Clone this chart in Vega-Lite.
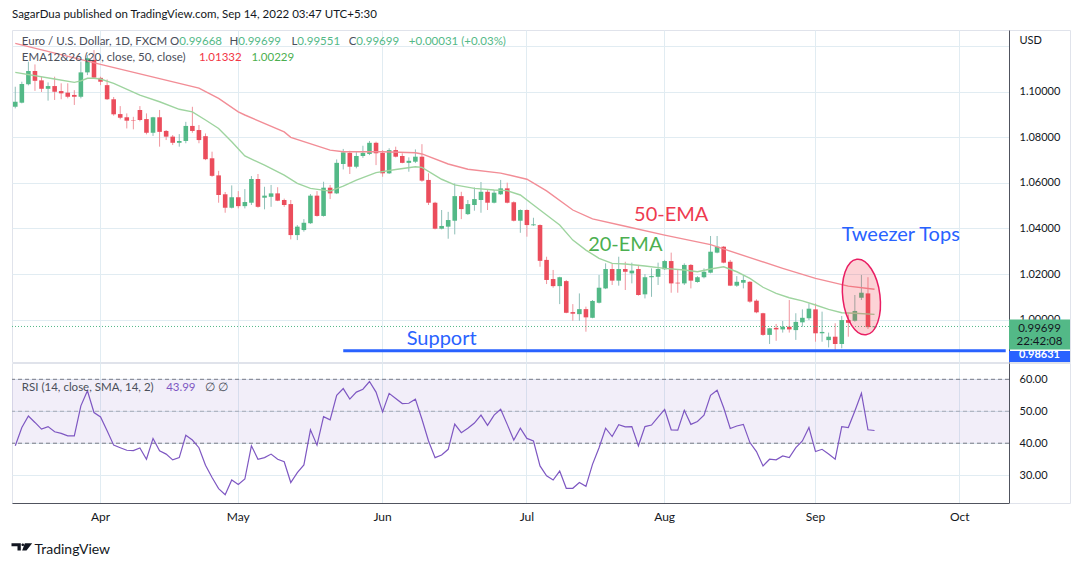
{
  "$schema": "https://vega.github.io/schema/vega-lite/v6.json",
  "background": "#ffffff",
  "padding": {"left": 10, "top": 9, "right": 11, "bottom": 4},
  "spacing": -2,
  "title": {"text": "SagarDua published on TradingView.com, Sep 14, 2022 03:47 UTC+5:30", "anchor": "start", "frame": "group", "fontSize": 11.5, "font": "Lato", "fontWeight": "normal", "color": "#131722", "offset": 9},
  "config": {
    "view": {"stroke": "#e0e3eb", "strokeWidth": 1},
    "font": "Lato",
    "axis": {"labelFont": "Lato", "titleFont": "Lato", "minExtent": 0},
    "text": {"font": "Lato"}
  },
  "datasets": {
    "candles": [
      {"d":"2022-03-15","o":1.0934,"h":1.1022,"l":1.0927,"c":1.0956},
      {"d":"2022-03-16","o":1.0952,"h":1.1044,"l":1.0949,"c":1.1034},
      {"d":"2022-03-17","o":1.1033,"h":1.1132,"l":1.1028,"c":1.1091},
      {"d":"2022-03-18","o":1.1091,"h":1.1120,"l":1.1004,"c":1.1048},
      {"d":"2022-03-21","o":1.1050,"h":1.1066,"l":1.0999,"c":1.1013},
      {"d":"2022-03-22","o":1.1013,"h":1.1041,"l":1.0961,"c":1.1025},
      {"d":"2022-03-23","o":1.1025,"h":1.1066,"l":1.0964,"c":1.1000},
      {"d":"2022-03-24","o":1.1003,"h":1.1037,"l":1.0967,"c":1.0993},
      {"d":"2022-03-25","o":1.0996,"h":1.1037,"l":1.0971,"c":1.0978},
      {"d":"2022-03-28","o":1.0986,"h":1.1007,"l":1.0942,"c":1.0978},
      {"d":"2022-03-29","o":1.0978,"h":1.1132,"l":1.0971,"c":1.1085},
      {"d":"2022-03-30","o":1.1085,"h":1.1161,"l":1.1073,"c":1.1147},
      {"d":"2022-03-31","o":1.1140,"h":1.1183,"l":1.1059,"c":1.1062},
      {"d":"2022-04-01","o":1.1061,"h":1.1066,"l":1.1029,"c":1.1044},
      {"d":"2022-04-04","o":1.1029,"h":1.1054,"l":1.0964,"c":1.0967},
      {"d":"2022-04-05","o":1.0967,"h":1.0977,"l":1.0895,"c":1.0901},
      {"d":"2022-04-06","o":1.0902,"h":1.0937,"l":1.0879,"c":1.0886},
      {"d":"2022-04-07","o":1.0888,"h":1.0905,"l":1.0839,"c":1.0873},
      {"d":"2022-04-08","o":1.0876,"h":1.0890,"l":1.0835,"c":1.0874},
      {"d":"2022-04-11","o":1.0920,"h":1.0937,"l":1.0870,"c":1.0876},
      {"d":"2022-04-12","o":1.0880,"h":1.0905,"l":1.0813,"c":1.0820},
      {"d":"2022-04-13","o":1.0820,"h":1.0890,"l":1.0806,"c":1.0888},
      {"d":"2022-04-14","o":1.0888,"h":1.0920,"l":1.0759,"c":1.0824},
      {"d":"2022-04-15","o":1.0828,"h":1.0832,"l":1.0788,"c":1.0803},
      {"d":"2022-04-18","o":1.0803,"h":1.0810,"l":1.0766,"c":1.0776},
      {"d":"2022-04-19","o":1.0776,"h":1.0814,"l":1.0759,"c":1.0784},
      {"d":"2022-04-20","o":1.0784,"h":1.0868,"l":1.0774,"c":1.0850},
      {"d":"2022-04-21","o":1.0850,"h":1.0934,"l":1.0820,"c":1.0828},
      {"d":"2022-04-22","o":1.0832,"h":1.0854,"l":1.0774,"c":1.0788},
      {"d":"2022-04-25","o":1.0805,"h":1.0817,"l":1.0700,"c":1.0704},
      {"d":"2022-04-26","o":1.0708,"h":1.0737,"l":1.0627,"c":1.0631},
      {"d":"2022-04-27","o":1.0633,"h":1.0653,"l":1.0513,"c":1.0547},
      {"d":"2022-04-28","o":1.0550,"h":1.0560,"l":1.0469,"c":1.0491},
      {"d":"2022-04-29","o":1.0491,"h":1.0589,"l":1.0488,"c":1.0537},
      {"d":"2022-05-02","o":1.0537,"h":1.0564,"l":1.0488,"c":1.0498},
      {"d":"2022-05-03","o":1.0498,"h":1.0573,"l":1.0488,"c":1.0516},
      {"d":"2022-05-04","o":1.0513,"h":1.0630,"l":1.0503,"c":1.0617},
      {"d":"2022-05-05","o":1.0617,"h":1.0639,"l":1.0491,"c":1.0495},
      {"d":"2022-05-06","o":1.0535,"h":1.0583,"l":1.0484,"c":1.0544},
      {"d":"2022-05-09","o":1.0539,"h":1.0591,"l":1.0495,"c":1.0554},
      {"d":"2022-05-10","o":1.0554,"h":1.0581,"l":1.0520,"c":1.0522},
      {"d":"2022-05-11","o":1.0525,"h":1.0531,"l":1.0495,"c":1.0503},
      {"d":"2022-05-12","o":1.0507,"h":1.0525,"l":1.0352,"c":1.0371},
      {"d":"2022-05-13","o":1.0371,"h":1.0415,"l":1.0349,"c":1.0408},
      {"d":"2022-05-16","o":1.0393,"h":1.0441,"l":1.0386,"c":1.0425},
      {"d":"2022-05-17","o":1.0423,"h":1.0551,"l":1.0420,"c":1.0544},
      {"d":"2022-05-18","o":1.0544,"h":1.0564,"l":1.0452,"c":1.0455},
      {"d":"2022-05-19","o":1.0455,"h":1.0605,"l":1.0452,"c":1.0579},
      {"d":"2022-05-20","o":1.0579,"h":1.0591,"l":1.0529,"c":1.0554},
      {"d":"2022-05-23","o":1.0554,"h":1.0703,"l":1.0551,"c":1.0688},
      {"d":"2022-05-24","o":1.0683,"h":1.0749,"l":1.0659,"c":1.0734},
      {"d":"2022-05-25","o":1.0732,"h":1.0741,"l":1.0639,"c":1.0671},
      {"d":"2022-05-26","o":1.0671,"h":1.0735,"l":1.0664,"c":1.0718},
      {"d":"2022-05-27","o":1.0718,"h":1.0763,"l":1.0710,"c":1.0732},
      {"d":"2022-05-30","o":1.0727,"h":1.0784,"l":1.0722,"c":1.0776},
      {"d":"2022-05-31","o":1.0776,"h":1.0781,"l":1.0678,"c":1.0730},
      {"d":"2022-06-01","o":1.0732,"h":1.0744,"l":1.0627,"c":1.0642},
      {"d":"2022-06-02","o":1.0642,"h":1.0752,"l":1.0639,"c":1.0744},
      {"d":"2022-06-03","o":1.0744,"h":1.0759,"l":1.0712,"c":1.0715},
      {"d":"2022-06-06","o":1.0718,"h":1.0730,"l":1.0686,"c":1.0688},
      {"d":"2022-06-07","o":1.0688,"h":1.0712,"l":1.0649,"c":1.0697},
      {"d":"2022-06-08","o":1.0693,"h":1.0747,"l":1.0687,"c":1.0715},
      {"d":"2022-06-09","o":1.0715,"h":1.0770,"l":1.0605,"c":1.0610},
      {"d":"2022-06-10","o":1.0613,"h":1.0642,"l":1.0503,"c":1.0513},
      {"d":"2022-06-13","o":1.0513,"h":1.0517,"l":1.0396,"c":1.0399},
      {"d":"2022-06-14","o":1.0399,"h":1.0481,"l":1.0396,"c":1.0411},
      {"d":"2022-06-15","o":1.0408,"h":1.0473,"l":1.0355,"c":1.0437},
      {"d":"2022-06-16","o":1.0434,"h":1.0598,"l":1.0374,"c":1.0542},
      {"d":"2022-06-17","o":1.0542,"h":1.0561,"l":1.0441,"c":1.0485},
      {"d":"2022-06-20","o":1.0463,"h":1.0525,"l":1.0459,"c":1.0507},
      {"d":"2022-06-21","o":1.0503,"h":1.0580,"l":1.0478,"c":1.0529},
      {"d":"2022-06-22","o":1.0525,"h":1.0604,"l":1.0469,"c":1.0561},
      {"d":"2022-06-23","o":1.0561,"h":1.0572,"l":1.0481,"c":1.0513},
      {"d":"2022-06-24","o":1.0513,"h":1.0569,"l":1.0510,"c":1.0557},
      {"d":"2022-06-27","o":1.0550,"h":1.0613,"l":1.0547,"c":1.0576},
      {"d":"2022-06-28","o":1.0576,"h":1.0601,"l":1.0510,"c":1.0513},
      {"d":"2022-06-29","o":1.0515,"h":1.0519,"l":1.0431,"c":1.0434},
      {"d":"2022-06-30","o":1.0434,"h":1.0484,"l":1.0381,"c":1.0481},
      {"d":"2022-07-01","o":1.0481,"h":1.0484,"l":1.0364,"c":1.0415},
      {"d":"2022-07-04","o":1.0414,"h":1.0447,"l":1.0411,"c":1.0418},
      {"d":"2022-07-05","o":1.0415,"h":1.0418,"l":1.0232,"c":1.0258},
      {"d":"2022-07-06","o":1.0262,"h":1.0276,"l":1.0156,"c":1.0174},
      {"d":"2022-07-07","o":1.0178,"h":1.0218,"l":1.0140,"c":1.0147},
      {"d":"2022-07-08","o":1.0147,"h":1.0188,"l":1.0068,"c":1.0186},
      {"d":"2022-07-11","o":1.0169,"h":1.0174,"l":1.0028,"c":1.0030},
      {"d":"2022-07-12","o":1.0033,"h":1.0068,"l":0.9995,"c":1.0026},
      {"d":"2022-07-13","o":1.0024,"h":1.0115,"l":0.9995,"c":1.0046},
      {"d":"2022-07-14","o":1.0046,"h":1.0057,"l":0.9947,"c":1.0010},
      {"d":"2022-07-15","o":1.0008,"h":1.0086,"l":1.0006,"c":1.0082},
      {"d":"2022-07-18","o":1.0074,"h":1.0196,"l":1.0071,"c":1.0140},
      {"d":"2022-07-19","o":1.0137,"h":1.0247,"l":1.0134,"c":1.0222},
      {"d":"2022-07-20","o":1.0222,"h":1.0247,"l":1.0152,"c":1.0171},
      {"d":"2022-07-21","o":1.0171,"h":1.0276,"l":1.0149,"c":1.0222},
      {"d":"2022-07-22","o":1.0222,"h":1.0254,"l":1.0130,"c":1.0210},
      {"d":"2022-07-25","o":1.0203,"h":1.0250,"l":1.0159,"c":1.0215},
      {"d":"2022-07-26","o":1.0222,"h":1.0240,"l":1.0105,"c":1.0108},
      {"d":"2022-07-27","o":1.0111,"h":1.0200,"l":1.0093,"c":1.0186},
      {"d":"2022-07-28","o":1.0186,"h":1.0225,"l":1.0100,"c":1.0191},
      {"d":"2022-07-29","o":1.0188,"h":1.0250,"l":1.0152,"c":1.0222},
      {"d":"2022-08-01","o":1.0221,"h":1.0262,"l":1.0218,"c":1.0257},
      {"d":"2022-08-02","o":1.0257,"h":1.0294,"l":1.0118,"c":1.0159},
      {"d":"2022-08-03","o":1.0162,"h":1.0218,"l":1.0118,"c":1.0159},
      {"d":"2022-08-04","o":1.0159,"h":1.0247,"l":1.0152,"c":1.0240},
      {"d":"2022-08-05","o":1.0240,"h":1.0244,"l":1.0137,"c":1.0171},
      {"d":"2022-08-08","o":1.0165,"h":1.0191,"l":1.0162,"c":1.0186},
      {"d":"2022-08-09","o":1.0186,"h":1.0225,"l":1.0181,"c":1.0210},
      {"d":"2022-08-10","o":1.0206,"h":1.0367,"l":1.0203,"c":1.0298},
      {"d":"2022-08-11","o":1.0294,"h":1.0367,"l":1.0291,"c":1.0320},
      {"d":"2022-08-12","o":1.0320,"h":1.0323,"l":1.0247,"c":1.0250},
      {"d":"2022-08-15","o":1.0254,"h":1.0262,"l":1.0147,"c":1.0149},
      {"d":"2022-08-16","o":1.0149,"h":1.0191,"l":1.0144,"c":1.0166},
      {"d":"2022-08-17","o":1.0162,"h":1.0194,"l":1.0137,"c":1.0174},
      {"d":"2022-08-18","o":1.0166,"h":1.0169,"l":1.0074,"c":1.0079},
      {"d":"2022-08-19","o":1.0083,"h":1.0089,"l":1.0028,"c":1.0032},
      {"d":"2022-08-22","o":1.0028,"h":1.0030,"l":0.9929,"c":0.9933},
      {"d":"2022-08-23","o":0.9933,"h":0.9964,"l":0.9893,"c":0.9962},
      {"d":"2022-08-24","o":0.9964,"h":0.9981,"l":0.9907,"c":0.9957},
      {"d":"2022-08-25","o":0.9957,"h":0.9994,"l":0.9943,"c":0.9969},
      {"d":"2022-08-26","o":0.9969,"h":1.0086,"l":0.9943,"c":0.9957},
      {"d":"2022-08-29","o":0.9954,"h":1.0028,"l":0.9911,"c":0.9990},
      {"d":"2022-08-30","o":0.9988,"h":1.0045,"l":0.9969,"c":1.0008},
      {"d":"2022-08-31","o":1.0006,"h":1.0071,"l":0.9998,"c":1.0048},
      {"d":"2022-09-01","o":1.0045,"h":1.0071,"l":0.9903,"c":0.9940},
      {"d":"2022-09-02","o":0.9940,"h":1.0035,"l":0.9903,"c":0.9946},
      {"d":"2022-09-05","o":0.9910,"h":0.9943,"l":0.9878,"c":0.9925},
      {"d":"2022-09-06","o":0.9925,"h":0.9984,"l":0.9859,"c":0.9893},
      {"d":"2022-09-07","o":0.9893,"h":1.0016,"l":0.9874,"c":0.9998},
      {"d":"2022-09-08","o":0.9998,"h":1.0023,"l":0.9925,"c":0.9986},
      {"d":"2022-09-09","o":0.9995,"h":1.0108,"l":0.9991,"c":1.0038},
      {"d":"2022-09-12","o":1.0096,"h":1.0196,"l":1.0086,"c":1.0118},
      {"d":"2022-09-13","o":1.0115,"h":1.0186,"l":0.9959,"c":0.9967},
      {"d":"2022-09-14","o":0.99668,"h":0.99699,"l":0.99551,"c":0.99699}
    ],
    "ema50": [
      {"d":"2022-03-15","v":1.1212},{"d":"2022-04-01","v":1.1120},{"d":"2022-04-22","v":1.1016},
      {"d":"2022-04-27","v":1.0971},{"d":"2022-05-02","v":1.0912},{"d":"2022-05-03","v":1.0898},
      {"d":"2022-05-11","v":1.0824},{"d":"2022-05-12","v":1.0800},{"d":"2022-05-20","v":1.0744},
      {"d":"2022-05-24","v":1.0737},{"d":"2022-06-01","v":1.0737},{"d":"2022-06-08","v":1.0732},
      {"d":"2022-06-09","v":1.0727},{"d":"2022-06-15","v":1.0683},{"d":"2022-06-20","v":1.0660},
      {"d":"2022-06-27","v":1.0643},{"d":"2022-07-01","v":1.0616},{"d":"2022-07-06","v":1.0565},
      {"d":"2022-07-12","v":1.0481},{"d":"2022-07-15","v":1.0442},{"d":"2022-07-22","v":1.0410},
      {"d":"2022-08-01","v":1.0371},{"d":"2022-08-10","v":1.0329},{"d":"2022-08-18","v":1.0272},
      {"d":"2022-08-25","v":1.0225},{"d":"2022-09-01","v":1.0181},{"d":"2022-09-08","v":1.0147},
      {"d":"2022-09-14","v":1.0133}
    ],
    "ema20": [
      {"d":"2022-03-15","v":1.1085},{"d":"2022-03-23","v":1.1056},{"d":"2022-03-28","v":1.1041},
      {"d":"2022-03-29","v":1.1048},{"d":"2022-03-30","v":1.1059},{"d":"2022-03-31","v":1.1059},
      {"d":"2022-04-01","v":1.1056},{"d":"2022-04-05","v":1.1037},{"d":"2022-04-11","v":1.0985},
      {"d":"2022-04-14","v":1.0956},{"d":"2022-04-19","v":1.0923},{"d":"2022-04-21","v":1.0912},
      {"d":"2022-04-25","v":1.0876},{"d":"2022-04-27","v":1.0839},{"d":"2022-04-29","v":1.0781},
      {"d":"2022-05-03","v":1.0718},{"d":"2022-05-06","v":1.0678},{"d":"2022-05-11","v":1.0634},
      {"d":"2022-05-13","v":1.0598},{"d":"2022-05-17","v":1.0576},{"d":"2022-05-20","v":1.0564},
      {"d":"2022-05-24","v":1.0586},{"d":"2022-05-26","v":1.0612},{"d":"2022-05-31","v":1.0645},
      {"d":"2022-06-03","v":1.0659},{"d":"2022-06-08","v":1.0671},{"d":"2022-06-09","v":1.0668},
      {"d":"2022-06-14","v":1.0616},{"d":"2022-06-16","v":1.0591},{"d":"2022-06-21","v":1.0576},
      {"d":"2022-06-24","v":1.0569},{"d":"2022-06-28","v":1.0566},{"d":"2022-06-30","v":1.0547},
      {"d":"2022-07-04","v":1.0503},{"d":"2022-07-06","v":1.0459},{"d":"2022-07-08","v":1.0415},
      {"d":"2022-07-12","v":1.0349},{"d":"2022-07-14","v":1.0305},{"d":"2022-07-18","v":1.0269},
      {"d":"2022-07-20","v":1.0247},{"d":"2022-07-22","v":1.0244},{"d":"2022-07-27","v":1.0235},
      {"d":"2022-08-01","v":1.0225},{"d":"2022-08-04","v":1.0218},{"d":"2022-08-08","v":1.0210},
      {"d":"2022-08-10","v":1.0222},{"d":"2022-08-12","v":1.0232},{"d":"2022-08-16","v":1.0210},
      {"d":"2022-08-18","v":1.0181},{"d":"2022-08-22","v":1.0142},{"d":"2022-08-24","v":1.0115},
      {"d":"2022-08-26","v":1.0096},{"d":"2022-08-30","v":1.0082},{"d":"2022-09-01","v":1.0064},
      {"d":"2022-09-05","v":1.0045},{"d":"2022-09-07","v":1.0030},{"d":"2022-09-09","v":1.0028},
      {"d":"2022-09-14","v":1.0023}
    ],
    "rsi": [
      {"d":"2022-03-15","v":39.2},{"d":"2022-03-16","v":44.9},{"d":"2022-03-17","v":48.5},{"d":"2022-03-18","v":46.5},
      {"d":"2022-03-21","v":44.4},{"d":"2022-03-22","v":45.2},{"d":"2022-03-23","v":43.6},{"d":"2022-03-24","v":43.1},
      {"d":"2022-03-25","v":42.3},{"d":"2022-03-28","v":42.3},{"d":"2022-03-29","v":51.7},{"d":"2022-03-30","v":56.4},
      {"d":"2022-03-31","v":49.6},{"d":"2022-04-01","v":48.2},{"d":"2022-04-04","v":43.9},{"d":"2022-04-05","v":39.4},
      {"d":"2022-04-06","v":38.6},{"d":"2022-04-07","v":37.8},{"d":"2022-04-08","v":37.7},{"d":"2022-04-11","v":38.5},
      {"d":"2022-04-12","v":35.0},{"d":"2022-04-13","v":41.5},{"d":"2022-04-14","v":37.6},{"d":"2022-04-15","v":36.6},
      {"d":"2022-04-18","v":34.8},{"d":"2022-04-19","v":35.5},{"d":"2022-04-20","v":42.5},{"d":"2022-04-21","v":41.0},
      {"d":"2022-04-22","v":38.6},{"d":"2022-04-25","v":33.1},{"d":"2022-04-26","v":29.3},{"d":"2022-04-27","v":25.8},
      {"d":"2022-04-28","v":23.9},{"d":"2022-04-29","v":28.5},{"d":"2022-05-02","v":27.1},{"d":"2022-05-03","v":28.8},
      {"d":"2022-05-04","v":39.2},{"d":"2022-05-05","v":35.0},{"d":"2022-05-06","v":35.5},{"d":"2022-05-09","v":36.6},
      {"d":"2022-05-10","v":35.0},{"d":"2022-05-11","v":34.2},{"d":"2022-05-12","v":27.7},{"d":"2022-05-13","v":30.8},
      {"d":"2022-05-16","v":33.2},{"d":"2022-05-17","v":44.2},{"d":"2022-05-18","v":39.4},{"d":"2022-05-19","v":48.3},
      {"d":"2022-05-20","v":47.3},{"d":"2022-05-23","v":55.0},{"d":"2022-05-24","v":57.1},{"d":"2022-05-25","v":53.8},
      {"d":"2022-05-26","v":56.0},{"d":"2022-05-27","v":56.9},{"d":"2022-05-30","v":59.3},{"d":"2022-05-31","v":56.0},
      {"d":"2022-06-01","v":49.8},{"d":"2022-06-02","v":55.6},{"d":"2022-06-03","v":54.0},{"d":"2022-06-06","v":52.4},
      {"d":"2022-06-07","v":52.5},{"d":"2022-06-08","v":53.8},{"d":"2022-06-09","v":47.5},{"d":"2022-06-10","v":40.7},
      {"d":"2022-06-13","v":35.5},{"d":"2022-06-14","v":36.3},{"d":"2022-06-15","v":38.1},{"d":"2022-06-16","v":46.0},
      {"d":"2022-06-17","v":43.3},{"d":"2022-06-20","v":44.7},{"d":"2022-06-21","v":46.3},{"d":"2022-06-22","v":48.8},
      {"d":"2022-06-23","v":45.6},{"d":"2022-06-24","v":48.8},{"d":"2022-06-27","v":50.6},{"d":"2022-06-28","v":45.9},
      {"d":"2022-06-29","v":41.0},{"d":"2022-06-30","v":44.7},{"d":"2022-07-01","v":41.5},{"d":"2022-07-04","v":40.7},
      {"d":"2022-07-05","v":32.9},{"d":"2022-07-06","v":29.8},{"d":"2022-07-07","v":28.5},{"d":"2022-07-08","v":31.3},
      {"d":"2022-07-11","v":25.9},{"d":"2022-07-12","v":25.9},{"d":"2022-07-13","v":27.7},{"d":"2022-07-14","v":26.5},
      {"d":"2022-07-15","v":33.4},{"d":"2022-07-18","v":38.6},{"d":"2022-07-19","v":44.7},{"d":"2022-07-20","v":42.1},
      {"d":"2022-07-21","v":45.8},{"d":"2022-07-22","v":45.1},{"d":"2022-07-25","v":45.2},{"d":"2022-07-26","v":39.2},
      {"d":"2022-07-27","v":45.2},{"d":"2022-07-28","v":45.7},{"d":"2022-07-29","v":48.2},{"d":"2022-08-01","v":50.6},
      {"d":"2022-08-02","v":44.2},{"d":"2022-08-03","v":44.1},{"d":"2022-08-04","v":50.3},{"d":"2022-08-05","v":45.9},
      {"d":"2022-08-08","v":46.8},{"d":"2022-08-09","v":48.8},{"d":"2022-08-10","v":55.0},{"d":"2022-08-11","v":56.6},
      {"d":"2022-08-12","v":51.1},{"d":"2022-08-15","v":44.6},{"d":"2022-08-16","v":45.4},{"d":"2022-08-17","v":45.9},
      {"d":"2022-08-18","v":40.2},{"d":"2022-08-19","v":37.4},{"d":"2022-08-22","v":32.9},{"d":"2022-08-23","v":35.0},
      {"d":"2022-08-24","v":34.8},{"d":"2022-08-25","v":36.0},{"d":"2022-08-26","v":35.5},{"d":"2022-08-29","v":38.6},
      {"d":"2022-08-30","v":40.7},{"d":"2022-08-31","v":44.9},{"d":"2022-09-01","v":37.4},{"d":"2022-09-02","v":38.1},
      {"d":"2022-09-05","v":36.6},{"d":"2022-09-06","v":35.0},{"d":"2022-09-07","v":45.2},{"d":"2022-09-08","v":44.9},
      {"d":"2022-09-09","v":50.1},{"d":"2022-09-12","v":55.6},{"d":"2022-09-13","v":44.2},{"d":"2022-09-14","v":43.99}
    ]
  },
  "vconcat": [
    {
      "spacing": 0,
      "bounds": "flush",
      "hconcat": [
        {
          "width": 997,
          "height": 332,
          "layer": [
            {
              "data": {"name": "candles"},
              "mark": {"type": "rule", "strokeWidth": 1},
              "encoding": {
                "x": {"field": "d", "type": "ordinal",
                  "scale": {"type": "band", "paddingInner": 0, "paddingOuter": 0, "domain": ["2022-03-15","2022-03-16","2022-03-17","2022-03-18","2022-03-21","2022-03-22","2022-03-23","2022-03-24","2022-03-25","2022-03-28","2022-03-29","2022-03-30","2022-03-31","2022-04-01","2022-04-04","2022-04-05","2022-04-06","2022-04-07","2022-04-08","2022-04-11","2022-04-12","2022-04-13","2022-04-14","2022-04-15","2022-04-18","2022-04-19","2022-04-20","2022-04-21","2022-04-22","2022-04-25","2022-04-26","2022-04-27","2022-04-28","2022-04-29","2022-05-02","2022-05-03","2022-05-04","2022-05-05","2022-05-06","2022-05-09","2022-05-10","2022-05-11","2022-05-12","2022-05-13","2022-05-16","2022-05-17","2022-05-18","2022-05-19","2022-05-20","2022-05-23","2022-05-24","2022-05-25","2022-05-26","2022-05-27","2022-05-30","2022-05-31","2022-06-01","2022-06-02","2022-06-03","2022-06-06","2022-06-07","2022-06-08","2022-06-09","2022-06-10","2022-06-13","2022-06-14","2022-06-15","2022-06-16","2022-06-17","2022-06-20","2022-06-21","2022-06-22","2022-06-23","2022-06-24","2022-06-27","2022-06-28","2022-06-29","2022-06-30","2022-07-01","2022-07-04","2022-07-05","2022-07-06","2022-07-07","2022-07-08","2022-07-11","2022-07-12","2022-07-13","2022-07-14","2022-07-15","2022-07-18","2022-07-19","2022-07-20","2022-07-21","2022-07-22","2022-07-25","2022-07-26","2022-07-27","2022-07-28","2022-07-29","2022-08-01","2022-08-02","2022-08-03","2022-08-04","2022-08-05","2022-08-08","2022-08-09","2022-08-10","2022-08-11","2022-08-12","2022-08-15","2022-08-16","2022-08-17","2022-08-18","2022-08-19","2022-08-22","2022-08-23","2022-08-24","2022-08-25","2022-08-26","2022-08-29","2022-08-30","2022-08-31","2022-09-01","2022-09-02","2022-09-05","2022-09-06","2022-09-07","2022-09-08","2022-09-09","2022-09-12","2022-09-13","2022-09-14","2022-09-15","2022-09-16","2022-09-19","2022-09-20","2022-09-21","2022-09-22","2022-09-23","2022-09-26","2022-09-27","2022-09-28","2022-09-29","2022-09-30","2022-10-03","2022-10-04","2022-10-05","2022-10-06","2022-10-07","2022-10-10","2022-10-11","2022-10-12"]},
                  "axis": {"values": ["2022-04-01","2022-05-02","2022-06-01","2022-07-01","2022-08-01","2022-09-01","2022-10-03"], "labels": false, "ticks": false, "domain": false, "title": null, "grid": true, "gridColor": "#e1ecf2", "bandPosition": 0.5}},
                "y": {"field": "l", "type": "quantitative", "scale": {"domain": [0.9814, 1.1271], "nice": false, "zero": false},
                  "axis": {"values": [1.0, 1.02, 1.04, 1.06, 1.08, 1.1, 1.12], "labels": false, "ticks": false, "domain": false, "title": null, "grid": true, "gridColor": "#e1ecf2"}},
                "y2": {"field": "h"},
                "color": {"condition": {"test": "datum.c >= datum.o", "value": "#8fbfb8"}, "value": "#f0959e"}
              }
            },
            {
              "data": {"name": "candles"},
              "mark": {"type": "bar", "width": {"band": 0.7}},
              "encoding": {
                "x": {"field": "d", "type": "ordinal"},
                "y": {"field": "o", "type": "quantitative", "scale": {"domain": [0.9814, 1.1271], "nice": false, "zero": false}},
                "y2": {"field": "c"},
                "color": {"condition": {"test": "datum.c >= datum.o", "value": "#53b987"}, "value": "#eb4d5c"}
              }
            },
            {
              "data": {"name": "ema50"},
              "mark": {"type": "line", "color": "#f28d96", "strokeWidth": 1.4},
              "encoding": {"x": {"field": "d", "type": "ordinal"}, "y": {"field": "v", "type": "quantitative", "scale": {"domain": [0.9814, 1.1271], "nice": false, "zero": false}}}
            },
            {
              "data": {"name": "ema20"},
              "mark": {"type": "line", "color": "#9ed49f", "strokeWidth": 1.4},
              "encoding": {"x": {"field": "d", "type": "ordinal"}, "y": {"field": "v", "type": "quantitative", "scale": {"domain": [0.9814, 1.1271], "nice": false, "zero": false}}}
            },
            {
              "data": {"values": [{}]},
              "mark": {"type": "rule", "color": "#53b987", "strokeDash": [1, 2], "strokeWidth": 1},
              "encoding": {"y": {"datum": 0.99699, "type": "quantitative"}}
            },
            {
              "data": {"values": [{}]},
              "mark": {"type": "rule", "color": "#2962ff", "strokeWidth": 3},
              "encoding": {"x": {"datum": "2022-05-24", "type": "ordinal"}, "x2": {"datum": "2022-10-12"}, "y": {"datum": 0.98631, "type": "quantitative"}}
            },
            {
              "data": {"values": [{}]},
              "mark": {"type": "point", "shape": "M0,-1A0.49,1 0 1,1 0,1A0.49,1 0 1,1 0,-1Z", "size": 5776, "filled": true, "fill": "#f23645", "fillOpacity": 0.22, "stroke": "#e91e63", "strokeWidth": 1.5, "strokeOpacity": 1, "opacity": 1, "angle": -7},
              "encoding": {"x": {"datum": "2022-09-12", "type": "ordinal"}, "y": {"datum": 1.0099, "type": "quantitative"}}
            },
            {
              "data": {"values": [{}]},
              "mark": {"type": "text", "text": "50-EMA", "fontSize": 20, "color": "#ee3a4f", "align": "center", "baseline": "middle"},
              "encoding": {"x": {"datum": "2022-08-02", "type": "ordinal"}, "y": {"datum": 1.0459, "type": "quantitative"}}
            },
            {
              "data": {"values": [{}]},
              "mark": {"type": "text", "text": "20-EMA", "fontSize": 20, "color": "#4caf50", "align": "center", "baseline": "middle"},
              "encoding": {"x": {"datum": "2022-07-22", "type": "ordinal"}, "y": {"datum": 1.0327, "type": "quantitative"}}
            },
            {
              "data": {"values": [{}]},
              "mark": {"type": "text", "text": "Tweezer Tops", "fontSize": 20, "color": "#2962ff", "align": "center", "baseline": "middle"},
              "encoding": {"x": {"datum": "2022-09-20", "type": "ordinal"}, "y": {"datum": 1.0371, "type": "quantitative"}}
            },
            {
              "data": {"values": [{}]},
              "mark": {"type": "text", "text": "Support", "fontSize": 20, "color": "#2962ff", "align": "center", "baseline": "middle"},
              "encoding": {"x": {"datum": "2022-06-14", "type": "ordinal"}, "y": {"datum": 0.9915, "type": "quantitative"}}
            },
            {
              "data": {"values": [{}]},
              "mark": {"type": "text", "text": "Euro / U.S. Dollar, 1D, FXCM", "fontSize": 11.5, "color": "#4a4e5a", "align": "left", "baseline": "middle"},
              "encoding": {"x": {"datum": "2022-03-16", "type": "ordinal"}, "y": {"datum": 1.1218, "type": "quantitative"}}
            },
            {
              "data": {"values": [{}]},
              "mark": {"type": "text", "text": "O", "fontSize": 11.5, "color": "#4a4e5a", "align": "right", "baseline": "middle"},
              "encoding": {"x": {"datum": "2022-04-19", "type": "ordinal"}, "y": {"datum": 1.1218, "type": "quantitative"}}
            },
            {
              "data": {"values": [{}]},
              "mark": {"type": "text", "text": "0.99668", "fontSize": 11.5, "color": "#53b987", "align": "left", "baseline": "middle"},
              "encoding": {"x": {"datum": "2022-04-19", "type": "ordinal"}, "y": {"datum": 1.1218, "type": "quantitative"}}
            },
            {
              "data": {"values": [{}]},
              "mark": {"type": "text", "text": "H", "fontSize": 11.5, "color": "#4a4e5a", "align": "right", "baseline": "middle"},
              "encoding": {"x": {"datum": "2022-05-02", "type": "ordinal"}, "y": {"datum": 1.1218, "type": "quantitative"}}
            },
            {
              "data": {"values": [{}]},
              "mark": {"type": "text", "text": "0.99699", "fontSize": 11.5, "color": "#53b987", "align": "left", "baseline": "middle"},
              "encoding": {"x": {"datum": "2022-05-02", "type": "ordinal"}, "y": {"datum": 1.1218, "type": "quantitative"}}
            },
            {
              "data": {"values": [{}]},
              "mark": {"type": "text", "text": "L", "fontSize": 11.5, "color": "#4a4e5a", "align": "right", "baseline": "middle"},
              "encoding": {"x": {"datum": "2022-05-13", "type": "ordinal"}, "y": {"datum": 1.1218, "type": "quantitative"}}
            },
            {
              "data": {"values": [{}]},
              "mark": {"type": "text", "text": "0.99551", "fontSize": 11.5, "color": "#53b987", "align": "left", "baseline": "middle"},
              "encoding": {"x": {"datum": "2022-05-13", "type": "ordinal"}, "y": {"datum": 1.1218, "type": "quantitative"}}
            },
            {
              "data": {"values": [{}]},
              "mark": {"type": "text", "text": "C", "fontSize": 11.5, "color": "#4a4e5a", "align": "right", "baseline": "middle"},
              "encoding": {"x": {"datum": "2022-05-26", "type": "ordinal"}, "y": {"datum": 1.1218, "type": "quantitative"}}
            },
            {
              "data": {"values": [{}]},
              "mark": {"type": "text", "text": "0.99699", "fontSize": 11.5, "color": "#53b987", "align": "left", "baseline": "middle"},
              "encoding": {"x": {"datum": "2022-05-26", "type": "ordinal"}, "y": {"datum": 1.1218, "type": "quantitative"}}
            },
            {
              "data": {"values": [{}]},
              "mark": {"type": "text", "text": "+0.00031 (+0.03%)", "fontSize": 11.5, "color": "#53b987", "align": "left", "baseline": "middle"},
              "encoding": {"x": {"datum": "2022-06-07", "type": "ordinal"}, "y": {"datum": 1.1218, "type": "quantitative"}}
            },
            {
              "data": {"values": [{}]},
              "mark": {"type": "text", "text": "EMA12&26 (20, close, 50, close)", "fontSize": 11.5, "color": "#4a4e5a", "align": "left", "baseline": "middle"},
              "encoding": {"x": {"datum": "2022-03-16", "type": "ordinal"}, "y": {"datum": 1.1146, "type": "quantitative"}}
            },
            {
              "data": {"values": [{}]},
              "mark": {"type": "text", "text": "1.01332", "fontSize": 11.5, "color": "#f23645", "align": "left", "baseline": "middle"},
              "encoding": {"x": {"datum": "2022-04-22", "type": "ordinal"}, "y": {"datum": 1.1146, "type": "quantitative"}}
            },
            {
              "data": {"values": [{}]},
              "mark": {"type": "text", "text": "1.00229", "fontSize": 11.5, "color": "#4caf50", "align": "left", "baseline": "middle"},
              "encoding": {"x": {"datum": "2022-05-04", "type": "ordinal"}, "y": {"datum": 1.1146, "type": "quantitative"}}
            }
          ]
        },
        {
          "width": 61,
          "height": 332,
          "layer": [
            {
              "data": {"values": [{}]},
              "mark": {"type": "rect", "color": "#53b987"},
              "encoding": {
                "y": {"datum": 1.0, "type": "quantitative", "scale": {"domain": [0.9814, 1.1271], "nice": false, "zero": false},
                  "axis": {"orient": "left", "values": [1.0, 1.02, 1.04, 1.06, 1.08, 1.1], "format": ".5f", "labelAlign": "left", "labelBaseline": "middle", "labelPadding": -10, "ticks": false, "domain": true, "domainColor": "#50535e", "grid": false, "labelFontSize": 11, "labelColor": "#131722", "title": "USD", "titleAngle": 0, "titleAlign": "left", "titleBaseline": "middle", "titleX": 10, "titleY": 10, "titleFontSize": 11, "titleFontWeight": "normal", "titleColor": "#131722"}},
                "y2": {"datum": 0.9869}
              }
            },
            {
              "data": {"values": [{}]},
              "mark": {"type": "text", "text": "0.99699", "fontSize": 11.5, "color": "#131722", "align": "center", "baseline": "middle"},
              "encoding": {"y": {"datum": 0.99587, "type": "quantitative"}}
            },
            {
              "data": {"values": [{}]},
              "mark": {"type": "text", "text": "22:42:08", "fontSize": 11.5, "color": "#131722", "align": "center", "baseline": "middle"},
              "encoding": {"y": {"datum": 0.99004, "type": "quantitative"}}
            },
            {
              "data": {"values": [{}]},
              "mark": {"type": "rect", "color": "#2962ff"},
              "encoding": {"y": {"datum": 0.98623, "type": "quantitative"}, "y2": {"datum": 0.9814}}
            },
            {
              "data": {"values": [{}]},
              "mark": {"type": "text", "text": "0.98631", "fontSize": 11, "fontWeight": "bold", "color": "#ffffff", "align": "center", "baseline": "middle"},
              "encoding": {"y": {"datum": 0.9843, "type": "quantitative"}}
            }
          ]
        }
      ]
    },
    {
      "spacing": 0,
      "bounds": "flush",
      "hconcat": [
        {
          "width": 997,
          "height": 140,
          "layer": [
            {
              "data": {"values": [{}]},
              "mark": {"type": "rect", "color": "#7e57c2", "opacity": 0.1},
              "encoding": {
                "y": {"datum": 40, "type": "quantitative", "scale": {"domain": [21.3, 65.1], "nice": false, "zero": false},
                  "axis": {"values": [30, 40, 50, 60], "labels": false, "ticks": false, "domain": false, "title": null, "grid": true, "gridColor": "#e1ecf2"}},
                "y2": {"datum": 60}
              }
            },
            {
              "data": {"values": [{}]},
              "mark": {"type": "rule", "color": "#787b86", "strokeDash": [4, 3], "strokeWidth": 1},
              "encoding": {"y": {"datum": 60, "type": "quantitative"}}
            },
            {
              "data": {"values": [{}]},
              "mark": {"type": "rule", "color": "#787b86", "strokeDash": [4, 3], "strokeWidth": 1},
              "encoding": {"y": {"datum": 40, "type": "quantitative"}}
            },
            {
              "data": {"values": [{}]},
              "mark": {"type": "rule", "color": "#787b86", "strokeDash": [4, 3], "strokeWidth": 1, "opacity": 0.55},
              "encoding": {"y": {"datum": 50, "type": "quantitative"}}
            },
            {
              "data": {"name": "rsi"},
              "mark": {"type": "line", "color": "#7e57c2", "strokeWidth": 1.2},
              "encoding": {
                "x": {"field": "d", "type": "ordinal",
                  "scale": {"type": "band", "paddingInner": 0, "paddingOuter": 0, "domain": ["2022-03-15","2022-03-16","2022-03-17","2022-03-18","2022-03-21","2022-03-22","2022-03-23","2022-03-24","2022-03-25","2022-03-28","2022-03-29","2022-03-30","2022-03-31","2022-04-01","2022-04-04","2022-04-05","2022-04-06","2022-04-07","2022-04-08","2022-04-11","2022-04-12","2022-04-13","2022-04-14","2022-04-15","2022-04-18","2022-04-19","2022-04-20","2022-04-21","2022-04-22","2022-04-25","2022-04-26","2022-04-27","2022-04-28","2022-04-29","2022-05-02","2022-05-03","2022-05-04","2022-05-05","2022-05-06","2022-05-09","2022-05-10","2022-05-11","2022-05-12","2022-05-13","2022-05-16","2022-05-17","2022-05-18","2022-05-19","2022-05-20","2022-05-23","2022-05-24","2022-05-25","2022-05-26","2022-05-27","2022-05-30","2022-05-31","2022-06-01","2022-06-02","2022-06-03","2022-06-06","2022-06-07","2022-06-08","2022-06-09","2022-06-10","2022-06-13","2022-06-14","2022-06-15","2022-06-16","2022-06-17","2022-06-20","2022-06-21","2022-06-22","2022-06-23","2022-06-24","2022-06-27","2022-06-28","2022-06-29","2022-06-30","2022-07-01","2022-07-04","2022-07-05","2022-07-06","2022-07-07","2022-07-08","2022-07-11","2022-07-12","2022-07-13","2022-07-14","2022-07-15","2022-07-18","2022-07-19","2022-07-20","2022-07-21","2022-07-22","2022-07-25","2022-07-26","2022-07-27","2022-07-28","2022-07-29","2022-08-01","2022-08-02","2022-08-03","2022-08-04","2022-08-05","2022-08-08","2022-08-09","2022-08-10","2022-08-11","2022-08-12","2022-08-15","2022-08-16","2022-08-17","2022-08-18","2022-08-19","2022-08-22","2022-08-23","2022-08-24","2022-08-25","2022-08-26","2022-08-29","2022-08-30","2022-08-31","2022-09-01","2022-09-02","2022-09-05","2022-09-06","2022-09-07","2022-09-08","2022-09-09","2022-09-12","2022-09-13","2022-09-14","2022-09-15","2022-09-16","2022-09-19","2022-09-20","2022-09-21","2022-09-22","2022-09-23","2022-09-26","2022-09-27","2022-09-28","2022-09-29","2022-09-30","2022-10-03","2022-10-04","2022-10-05","2022-10-06","2022-10-07","2022-10-10","2022-10-11","2022-10-12"]},
                  "axis": {"values": ["2022-04-01","2022-05-02","2022-06-01","2022-07-01","2022-08-01","2022-09-01","2022-10-03"], "labelExpr": "['','Jan','Feb','Mar','Apr','May','Jun','Jul','Aug','Sep','Oct','Nov','Dec'][toNumber(substring(datum.value,5,7))]", "labelAngle": 0, "labelAlign": "center", "labelBaseline": "middle", "labelPadding": 13, "labelFontSize": 12, "labelColor": "#131722", "ticks": false, "domain": true, "domainColor": "#50535e", "grid": true, "gridColor": "#e1ecf2", "bandPosition": 0.5,
                    "title": "TradingView", "titleAnchor": "start", "titleAlign": "left", "titleBaseline": "middle", "titleX": 22, "titleY": 46, "titleFontSize": 14, "titleFontWeight": "normal", "titleColor": "#131722"}},
                "y": {"field": "v", "type": "quantitative", "scale": {"domain": [21.3, 65.1], "nice": false, "zero": false}}
              }
            },
            {
              "data": {"values": [{}]},
              "mark": {"type": "text", "text": "RSI (14, close, SMA, 14, 2)", "fontSize": 11.5, "color": "#4a4e5a", "align": "left", "baseline": "middle"},
              "encoding": {"x": {"datum": "2022-03-16", "type": "ordinal"}, "y": {"datum": 57.4, "type": "quantitative"}}
            },
            {
              "data": {"values": [{}]},
              "mark": {"type": "text", "text": "43.99", "fontSize": 11.5, "color": "#7e57c2", "align": "left", "baseline": "middle"},
              "encoding": {"x": {"datum": "2022-04-15", "type": "ordinal"}, "y": {"datum": 57.4, "type": "quantitative"}}
            },
            {
              "data": {"values": [{}]},
              "mark": {"type": "text", "text": "∅  ∅", "fontSize": 11.5, "color": "#4a4e5a", "align": "left", "baseline": "middle"},
              "encoding": {"x": {"datum": "2022-04-25", "type": "ordinal"}, "y": {"datum": 57.4, "type": "quantitative"}}
            },
            {
              "data": {"values": [{}]},
              "mark": {"type": "point", "shape": "M-1,-0.35L-0.1,-0.35L-0.1,0.35L-0.42,0.35L-0.42,-0.06L-1,-0.06ZM-0.04,-0.2A0.13,0.13 0 1,0 0.22,-0.2A0.13,0.13 0 1,0 -0.04,-0.2ZM0.29,-0.35L1,-0.35L0.45,0.35L0.03,0.35Z", "size": 428, "filled": true, "color": "#131722", "opacity": 1, "strokeWidth": 0},
              "encoding": {"x": {"datum": "2022-03-16", "type": "ordinal"}, "y": {"datum": 7.6, "type": "quantitative"}}
            }
          ]
        },
        {
          "width": 61,
          "height": 140,
          "layer": [
            {
              "data": {"values": [{}]},
              "mark": {"type": "rule", "opacity": 0},
              "encoding": {
                "y": {"datum": 50, "type": "quantitative", "scale": {"domain": [21.3, 65.1], "nice": false, "zero": false},
                  "axis": {"orient": "left", "values": [30, 40, 50, 60], "format": ".2f", "labelAlign": "left", "labelBaseline": "middle", "labelPadding": -10, "ticks": false, "domain": true, "domainColor": "#50535e", "grid": false, "labelFontSize": 11, "labelColor": "#131722", "title": null}}
              }
            }
          ]
        }
      ]
    }
  ]
}
